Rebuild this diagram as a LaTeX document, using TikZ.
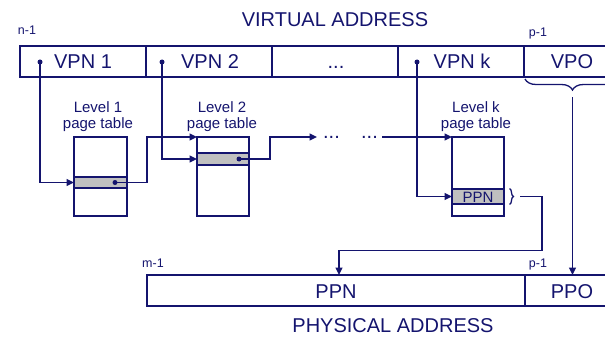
\documentclass[tikz,border=0pt]{standalone}
\usepackage{fontspec}
\setmainfont{Liberation Sans}
\usetikzlibrary{arrows.meta,decorations.pathreplacing}
\definecolor{navy}{RGB}{20,20,110}
\definecolor{rowgray}{RGB}{192,192,192}
\begin{document}
\begin{tikzpicture}[x=1pt,y=-1pt,
  cell/.style={draw=navy,line width=1.4pt,minimum height=31pt,inner sep=0pt,outer sep=0pt,anchor=north west},
  tbl/.style={draw=navy,line width=1.3pt,minimum height=79pt,inner sep=0pt,outer sep=0pt,anchor=north west},
  prow/.style={draw=navy,fill=rowgray,line width=1.3pt,inner sep=0pt,outer sep=0pt,anchor=north west},
  big/.style={text=navy,font=\fontsize{20}{24}\selectfont,anchor=base,inner sep=0pt},
  mid/.style={text=navy,font=\fontsize{15}{18}\selectfont,anchor=base,inner sep=0pt},
  small/.style={text=navy,font=\fontsize{12.5}{15}\selectfont,anchor=base,inner sep=0pt},
  conn/.style={draw=navy,line width=1.3pt,-{Triangle[length=7.5pt,width=7pt]}},
  brc/.style={draw=navy,line width=1.3pt,decorate}]
\useasboundingbox (0,0) rectangle (605,337);
% titles
\node[big] (vtitle) at (335,27) {VIRTUAL ADDRESS};
\node[big] (ptitle) at (393,332) {PHYSICAL ADDRESS};
\node[small] (n1) at (27,35) {n-1};
\node[small] (pv) at (538,36.5) {p-1};
\node[small] (m1) at (153,267) {m-1};
\node[small] (pp) at (538,267) {p-1};
% virtual address row
\node[cell,minimum width=126pt] (c1) at (20,46) {};
\node[cell,minimum width=126pt] (c2) at (146,46) {};
\node[cell,minimum width=126pt] (c3) at (272,46) {};
\node[cell,minimum width=126pt] (c4) at (398,46) {};
\node[cell,minimum width=96pt] (c5) at (524,46) {};
\node[big] (l1) at (83,69) {VPN 1};
\node[big] (l2) at (210,69) {VPN 2};
\node[big] (l3) at (336,69) {...};
\node[big] (l4) at (462,69) {VPN k};
\node[big] (l5) at (572,69) {VPO};
% physical address row
\node[cell,minimum width=378pt] (p1) at (147,275) {};
\node[cell,minimum width=95pt] (p2) at (525,275) {};
\node[big] (lp1) at (336,298) {PPN};
\node[big] (lp2) at (572,298) {PPO};
% page tables
\node[mid] (lv1) at (98,112) {Level 1};
\node[mid] (pt1) at (98,128) {page table};
\node[mid] (lv2) at (222,112) {Level 2};
\node[mid] (pt2) at (222,128) {page table};
\node[mid] (lvk) at (476,112) {Level k};
\node[mid] (ptk) at (476,128) {page table};
\node[tbl,minimum width=53pt] (t1) at (74,137) {};
\node[prow,minimum width=53pt,minimum height=11pt] (r1) at (74,177) {};
\node[tbl,minimum width=52pt] (t2) at (197,137) {};
\node[prow,minimum width=52pt,minimum height=12pt] (r2) at (197,153) {};
\node[tbl,minimum width=52pt] (t3) at (452,137) {};
\node[prow,minimum width=52pt,minimum height=15pt] (r3) at (452,189) {};
\node[mid] (ppnk) at (478,202) {PPN};
% dots
\coordinate (d1) at (40,62);
\coordinate (d2) at (162,62);
\coordinate (d4) at (417,62);
\coordinate (td1) at (115,182.5);
\coordinate (td2) at (239,159);
\foreach \p in {d1,d2,d4,td1,td2} \fill[navy] (\p) circle (2.5pt);
% connectors
\draw[conn] (d1) |- (r1.west);
\draw[conn] (d2) |- (r2.west);
\draw[conn] (d4) |- (r3.west);
\draw[conn] (td1) -- ++(32,0) |- (t2.north west);
\coordinate (el) at (317,137);
\coordinate (er) at (382,137);
\draw[conn] (td2) -- ++(31,0) |- (el);
\node[big] (dots1) at (331.5,138.5) {...};
\node[big] (dots2) at (369.5,138.5) {...};
\draw[conn] (er) -- (t3.north west);
% brace to PPN
\draw[brc,decoration={brace,amplitude=4pt}] (509.5,188.5) -- (509.5,204.5);
\coordinate (pb) at (520,196.5);
\draw[conn] (pb) -- ++(22,0) -- ++(0,54) -| ([xshift=3pt]p1.north);
% VPO brace to PPO
\draw[brc,decoration={brace,amplitude=11pt}] (620,79) -- (525,79);
\coordinate (bt) at (572.5,97);
\draw[conn] (bt) -- (p2.north);
\end{tikzpicture}
\end{document}
